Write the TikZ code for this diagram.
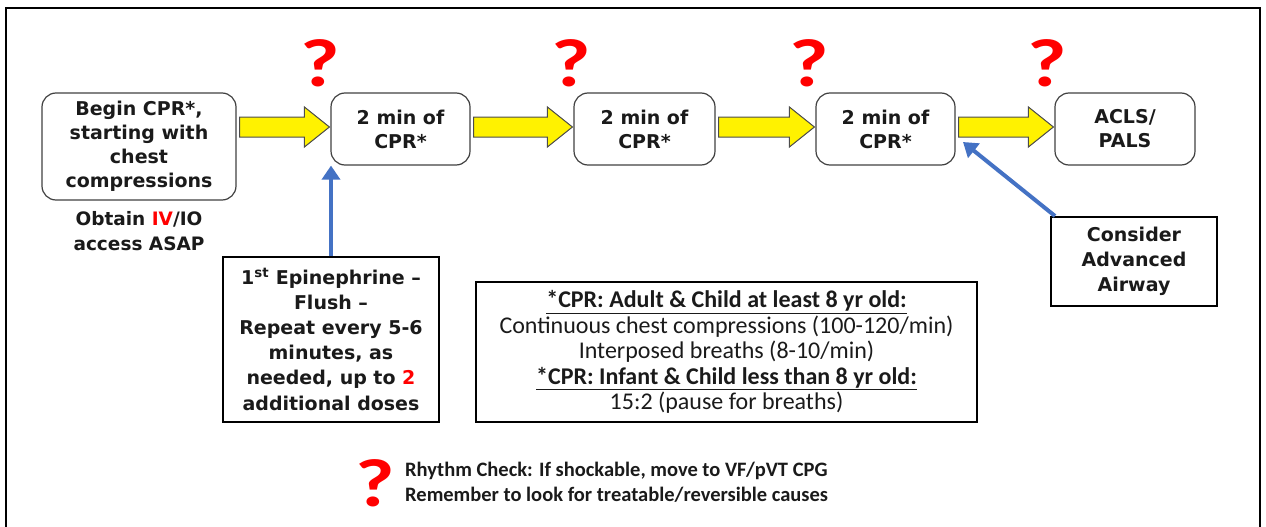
\documentclass[tikz,border=0pt]{standalone}
\usepackage{fontspec}
\usetikzlibrary{arrows.meta,calc}
\newfontfamily\vfont{DejaVu Sans}
\newfontfamily\cfont{Carlito}
\definecolor{qred}{HTML}{FF0000}
\definecolor{ablue}{HTML}{4472C4}
\definecolor{bordergray}{HTML}{404040}
\definecolor{txt}{HTML}{1A1A1A}
\tikzset{
  rbox/.style={draw=bordergray, line width=1.2pt, rounded corners=14pt, align=center, inner sep=0pt, text=txt,
    font={\vfont\bfseries\fontsize{19}{24}\selectfont}},
  sbox/.style={draw=black, line width=1.2pt, align=center, inner sep=0pt, text=txt,
    font={\vfont\bfseries\fontsize{19}{25.2}\selectfont}},
  qmark/.style={text=qred, inner sep=0pt, font={\cfont\bfseries\fontsize{68}{68}\selectfont}},
  yarrowstyle/.style={draw=gray!60!black, fill=yellow, line width=1pt, line join=miter},
  barrow/.style={draw=ablue, line width=4pt, -{Triangle[length=14pt,width=18pt]}, shorten >=0pt}
}
\newcommand\qm{\scalebox{1.25}[1]{?}}
\newcommand\yarr[2]{%
  \draw[yarrowstyle] let \p1=(#1.east), \p2=(#2.west) in
    (\x1+3pt,-117pt) -- (\x2-26pt,-117pt) -- (\x2-26pt,-107pt) -- (\x2-1pt,-127pt)
    -- (\x2-26pt,-147pt) -- (\x2-26pt,-137pt) -- (\x1+3pt,-137pt) -- cycle;}
\begin{document}
\begin{tikzpicture}[x=1pt,y=-1pt]
\useasboundingbox (0,0) rectangle (1266,527);
% frame
\draw[line width=2pt] (6,527) -- (6,8) -- (1260,8) -- (1260,527);

% main boxes
\node[rbox, minimum width=194pt, minimum height=107pt] (b1) at (139,146.5)
  {Begin CPR*,\\starting with\\chest\\compressions};
\node[rbox, minimum width=139pt, minimum height=72pt] (b2) at (400.5,129) {2 min of\\CPR*};
\node[rbox, minimum width=141pt, minimum height=72pt] (b3) at (644.5,129) {2 min of\\CPR*};
\node[rbox, minimum width=139pt, minimum height=72pt] (b4) at (885.5,129) {2 min of\\CPR*};
\node[rbox, minimum width=140pt, minimum height=72pt] (b5) at (1125,129) {ACLS/\\PALS};

% obtain text
\node[align=center, inner sep=0pt, text=txt, font={\vfont\bfseries\fontsize{18.5}{25}\selectfont}] (obt) at (139,231)
  {Obtain \textcolor{qred}{IV}/IO\\access ASAP};

% question marks
\node[qmark] (q1) at (320,63) {\qm};
\node[qmark] (q2) at (571,63) {\qm};
\node[qmark] (q3) at (809,63) {\qm};
\node[qmark] (q4) at (1047,63) {\qm};

% yellow arrows
\yarr{b1}{b2}
\yarr{b2}{b3}
\yarr{b3}{b4}
\yarr{b4}{b5}

% epinephrine box
\node[sbox, minimum width=216pt, minimum height=165pt] (epi) at (331,339.5)
  {1\textsuperscript{st} Epinephrine –\\Flush –\\Repeat every 5-6\\minutes, as\\needed, up to \textcolor{qred}{2}\\additional doses};
\draw[barrow] (epi.north) -- (epi.north |- b2.south);

% consider box
\node[sbox, minimum width=166pt, minimum height=89pt] (cons) at (1134,261.5)
  {Consider\\Advanced\\Airway};
\coordinate (tip) at (963,142);
\coordinate (tail) at (1055,216);
\draw[barrow] (tail) -- (tip);

% CPR info box
\node[draw=black, line width=1.2pt, align=center, inner sep=0pt, minimum width=501pt, minimum height=140pt, text=txt,
  font={\cfont\fontsize{24}{25.5}\selectfont}] (info) at (726.5,352)
  {\textbf{\underline{*CPR: Adult \& Child at least 8 yr old:}}\\
   Continuous chest compressions (100-120/min)\\
   Interposed breaths (8-10/min)\\
   \textbf{\underline{*CPR: Infant \& Child less than 8 yr old:}}\\
   15:2 (pause for breaths)};

% legend
\node[qmark] (q5) at (375,483) {\qm};
\node[anchor=west, align=left, inner sep=0pt, text=txt, font={\cfont\bfseries\fontsize{20.5}{25}\selectfont}] (leg) at (405,482.5)
  {Rhythm Check: If shockable, move to VF/pVT CPG\\Remember to look for treatable/reversible causes};
\end{tikzpicture}
\end{document}
